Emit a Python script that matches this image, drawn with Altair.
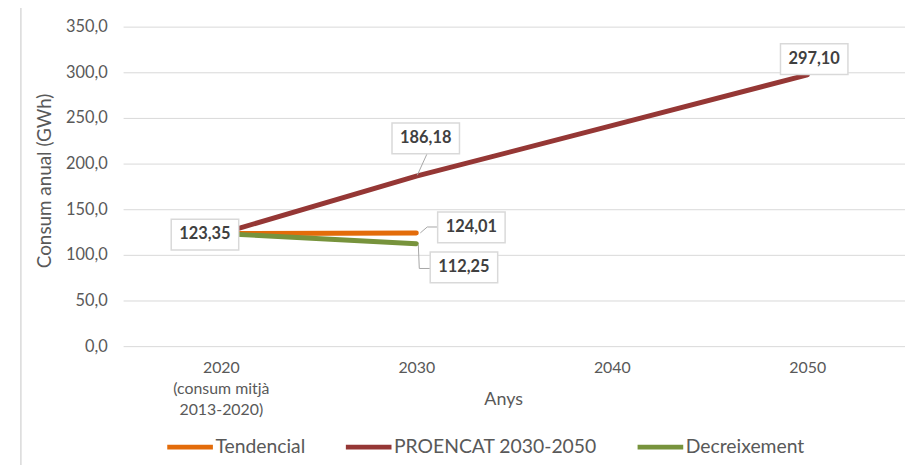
import altair as alt
import pandas as pd

# ---- data ----
years = ["2020", "2030", "2040", "2050"]
series_names = ["Tendencial", "PROENCAT 2030-2050", "Decreixement"]
tendencial = [123.35, 124.01, None, None]
proencat = [123.35, 186.18, 241.6, 297.10]
decreixement = [123.35, 112.25, None, None]
colors = ["#E36C0A", "#953735", "#77933C"]
y_ticks = [0, 50, 100, 150, 200, 250, 300, 350]

rows = []
for name, vals in zip(series_names, [tendencial, proencat, decreixement]):
    for i, (yr, v) in enumerate(zip(years, vals)):
        if v is not None:
            rows.append({"series": name, "year": yr, "value": v, "order": i})
df = pd.DataFrame(rows)

# labelled points: (series, year, label text)
label_points = [
    ("Tendencial", "2020", "123,35"),
    ("PROENCAT 2030-2050", "2030", "186,18"),
    ("Tendencial", "2030", "124,01"),
    ("Decreixement", "2030", "112,25"),
    ("PROENCAT 2030-2050", "2050", "297,10"),
]
# style offsets of the boxes (pixels) in the same order
label_offsets = [(-16, 1), (9.5, -38), (55.5, -5.5), (48, 24), (7, -16)]

FONT = "Lato"
W, H = 788, 322

x_enc = alt.X("year:N", scale=alt.Scale(type="point", domain=years, padding=0.5),
              axis=alt.Axis(title="Anys", domain=False, ticks=False, grid=False,
                            labelAngle=0, labelFontSize=16, labelColor="#595959",
                            labelFont=FONT, labelPadding=14, labelLineHeight=21,
                            labelExpr="datum.value == '2020' ? ['2020', '(consum mitjà', '2013-2020)'] : datum.label",
                            titleFontSize=18, titleFont=FONT, titleColor="#595959",
                            titleFontWeight="normal", titleX=383, titleY=59,
                            titleBaseline="alphabetic", titleAnchor="start", titleAlign="center"))
y_enc = alt.Y("value:Q", scale=alt.Scale(domain=[0, 350], nice=False, zero=True),
              axis=alt.Axis(title="Consum anual (GWh)", values=y_ticks, domain=False, ticks=False,
                            grid=True, gridColor="#D9D9D9", gridWidth=1,
                            labelFontSize=16.5, labelColor="#595959", labelFont=FONT, labelPadding=16,
                            labelExpr="replace(format(datum.value, '.1f'), '.', ',')",
                            titleFontSize=19, titleFont=FONT, titleColor="#595959",
                            titleFontWeight="normal", titleX=-79, titleY=155,
                            titleBaseline="middle", titleAlign="center", titleAnchor="start"))

base = alt.Chart(df)

border = alt.Chart(pd.DataFrame({"a": [0]})).mark_rule(color="#D9D9D9", strokeWidth=1.5).encode(
    x=alt.value(-103), y=alt.value(-25), y2=alt.value(H + 120))

lines = base.mark_line(strokeWidth=5, strokeCap="round", strokeJoin="round").encode(
    x=x_enc, y=y_enc,
    color=alt.Color("series:N", scale=alt.Scale(domain=series_names, range=colors),
                    legend=alt.Legend(title=None, orient="none", legendX=42, legendY=398,
                                      direction="horizontal", symbolType="stroke",
                                      symbolSize=2116, symbolStrokeWidth=5,
                                      labelFontSize=19.5, labelFont=FONT, labelColor="#595959",
                                      labelLimit=0, labelOffset=0, columnPadding=30, padding=0)),
    order="order:O",
)

layers = [border, lines]

leader_specs = {
    "186,18": [((1, -1), (11, -23))],
    "124,01": [((4, 0), (11, -6)), ((11, -6), (21, -6))],
    "112,25": [((2, 1), (3, 25)), ((3, 25), (14, 25))],
}

for (ser, yr, txt), (dx, dy) in zip(label_points, label_offsets):
    pt = df[(df.series == ser) & (df.year == yr)].assign(label=txt)
    c = alt.Chart(pt)
    for (a, b) in leader_specs.get(txt, []):
        layers.append(c.mark_rule(color="#A6A6A6", strokeWidth=1,
                                  xOffset=a[0], yOffset=a[1], x2Offset=b[0], y2Offset=b[1]).encode(
            x=alt.X("year:N"), y=alt.Y("value:Q"), x2="year:N", y2="value:Q"))
    layers.append(c.mark_rect(width=68, height=31, fill="white", stroke="#D9D9D9", strokeWidth=1.5,
                              xOffset=dx, yOffset=dy).encode(x=alt.X("year:N"), y=alt.Y("value:Q")))
    layers.append(c.mark_text(font=FONT, fontSize=16.5, fontWeight="bold", color="#404040",
                              dx=dx, dy=dy, baseline="middle", align="center").encode(
        x=alt.X("year:N"), y=alt.Y("value:Q"), text="label:N"))

chart = alt.layer(*layers).properties(
    width=W, height=H,
    autosize=alt.AutoSizeParams(type="none"),
    padding={"left": 116, "top": 17, "right": 0, "bottom": 118},
).configure_view(stroke=None)

chart.save("out.html", embed_options={"renderer": "svg", "actions": False})
